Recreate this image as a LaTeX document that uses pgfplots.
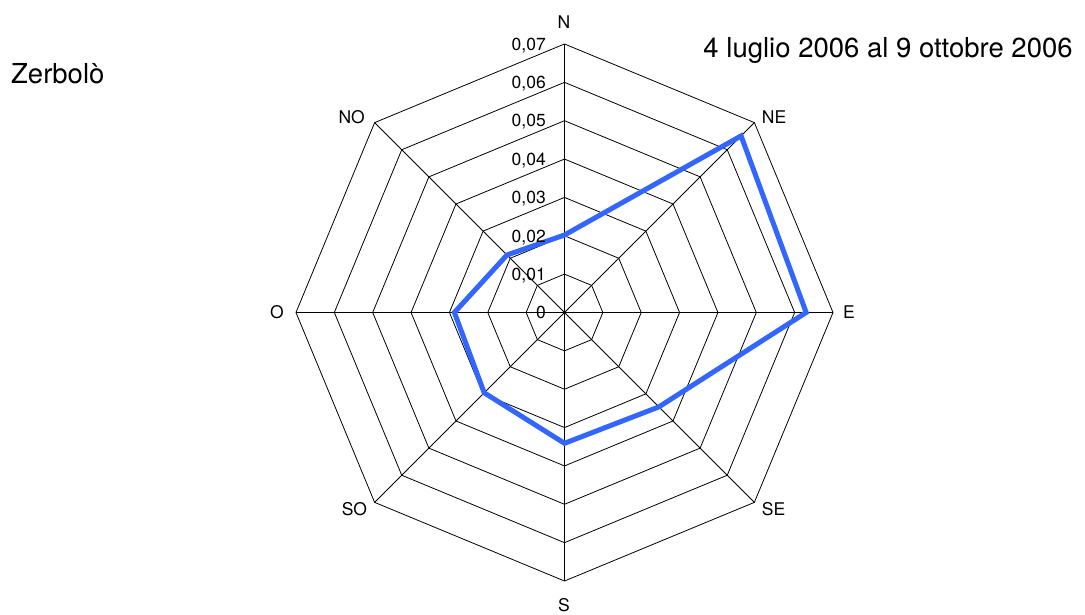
\documentclass[border=0pt]{standalone}
\usepackage{fontspec}
\setmainfont{TeX Gyre Heros}
\usepackage{pgfplots}
\pgfplotsset{compat=1.18}
\definecolor{lineblue}{RGB}{51,102,255}
\newcommand{\lab}{\fontsize{17.5}{21}\selectfont}
\newcommand{\bigtxt}{\fontsize{27.5}{33}\selectfont}
\begin{document}
\begin{tikzpicture}
\path[use as bounding box] (-564.5pt,-302.5pt) rectangle (520.5pt,312.5pt);
\begin{axis}[hide axis, x=3836pt, y=3836pt,
  xmin=-0.08, xmax=0.08, ymin=-0.08, ymax=0.08,
  at={(0pt,0pt)}, anchor=center, clip=false, data cs=polar]
% rings
\addplot[black, line width=0.8pt, mark=none] coordinates {(90,0.01)(45,0.01)(0,0.01)(-45,0.01)(-90,0.01)(-135,0.01)(180,0.01)(135,0.01)} -- cycle;
\addplot[black, line width=0.8pt, mark=none] coordinates {(90,0.02)(45,0.02)(0,0.02)(-45,0.02)(-90,0.02)(-135,0.02)(180,0.02)(135,0.02)} -- cycle;
\addplot[black, line width=0.8pt, mark=none] coordinates {(90,0.03)(45,0.03)(0,0.03)(-45,0.03)(-90,0.03)(-135,0.03)(180,0.03)(135,0.03)} -- cycle;
\addplot[black, line width=0.8pt, mark=none] coordinates {(90,0.04)(45,0.04)(0,0.04)(-45,0.04)(-90,0.04)(-135,0.04)(180,0.04)(135,0.04)} -- cycle;
\addplot[black, line width=0.8pt, mark=none] coordinates {(90,0.05)(45,0.05)(0,0.05)(-45,0.05)(-90,0.05)(-135,0.05)(180,0.05)(135,0.05)} -- cycle;
\addplot[black, line width=0.8pt, mark=none] coordinates {(90,0.06)(45,0.06)(0,0.06)(-45,0.06)(-90,0.06)(-135,0.06)(180,0.06)(135,0.06)} -- cycle;
\addplot[black, line width=0.8pt, mark=none] coordinates {(90,0.07)(45,0.07)(0,0.07)(-45,0.07)(-90,0.07)(-135,0.07)(180,0.07)(135,0.07)} -- cycle;
% spokes
\addplot[black, line width=0.8pt, mark=none] coordinates {(90,0.07)(-90,0.07)};
\addplot[black, line width=0.8pt, mark=none] coordinates {(0,0.07)(180,0.07)};
\addplot[black, line width=0.8pt, mark=none] coordinates {(45,0.07)(-135,0.07)};
\addplot[black, line width=0.8pt, mark=none] coordinates {(135,0.07)(-45,0.07)};
% data
\addplot[lineblue, line width=5pt, line join=miter, mark=none] coordinates {(90,0.0202)(45,0.0651)(0,0.0630)(-45,0.0348)(-90,0.0341)(-135,0.0296)(180,0.0287)(135,0.0212)} -- cycle;
\end{axis}
% tick labels
\foreach \r/\t in {0/0, 38.36/{0,01}, 76.72/{0,02}, 115.08/{0,03}, 153.44/{0,04}, 191.8/{0,05}, 230.16/{0,06}, 268.52/{0,07}}
  \node[anchor=base east, inner sep=0pt] at (-18.5pt, \r pt - 6.3pt) {\lab \t};
% direction labels
\node[anchor=base, inner sep=0pt] at (-0.5pt, 284.2pt) {\lab N};
\node[anchor=base west, inner sep=0pt] at (197.2pt, 189.2pt) {\lab NE};
\node[anchor=base west, inner sep=0pt] at (278.5pt, -6.5pt) {\lab E};
\node[anchor=base west, inner sep=0pt] at (197.2pt, -202.8pt) {\lab SE};
\node[anchor=base, inner sep=0pt] at (-0.5pt, -298.8pt) {\lab S};
\node[anchor=base east, inner sep=0pt] at (-197.2pt, -202.8pt) {\lab SO};
\node[anchor=base east, inner sep=0pt] at (-280.5pt, -6.5pt) {\lab O};
\node[anchor=base east, inner sep=0pt] at (-199.5pt, 189.2pt) {\lab NO};
% titles
\node[anchor=base west, inner sep=0pt] at (138.8pt, 255.2pt) {\bigtxt 4 luglio 2006 al 9 ottobre 2006};
\node[anchor=base west, inner sep=0pt] at (-553.5pt, 229.2pt) {\bigtxt Zerbolò};
\end{tikzpicture}
\end{document}
